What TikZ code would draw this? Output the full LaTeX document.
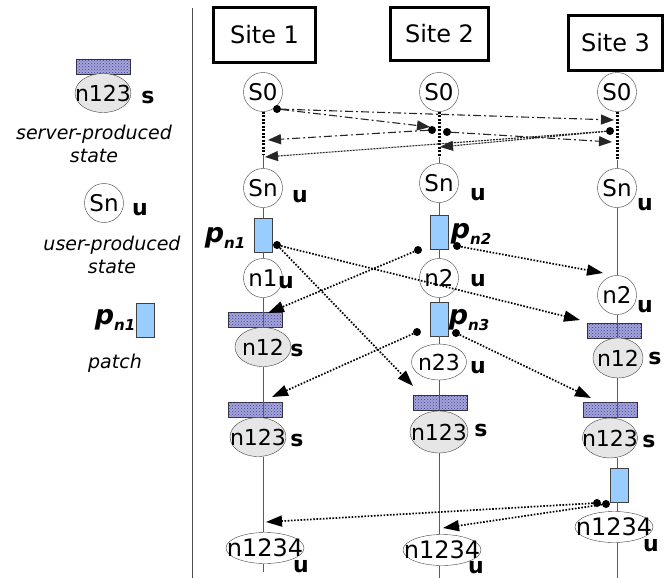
\documentclass[tikz,border=0pt]{standalone}
\usepackage{fontspec}
\setmainfont{DejaVu Sans}
\usetikzlibrary{shapes.geometric,arrows.meta,patterns}
\definecolor{hatchfill}{RGB}{165,165,218}
\definecolor{hatchline}{RGB}{60,60,150}
\definecolor{patchfill}{RGB}{153,204,255}
\definecolor{stgray}{RGB}{230,230,230}
\definecolor{linegray}{RGB}{90,90,90}
\newcommand{\psub}[1]{p\raisebox{-0.45ex}{\fontsize{15}{15}\selectfont #1}}
\begin{document}
\begin{tikzpicture}[x=1pt,y=-1pt,
 sitebox/.style={draw=black, line width=3pt, inner sep=0pt, font=\fontsize{24}{28}\selectfont},
 ustate/.style={circle, draw=black!75, fill=white, inner sep=0pt, minimum size=39pt, font=\fontsize{23}{26}\selectfont},
 uell/.style={ellipse, draw=black!75, fill=white, inner xsep=-20pt, inner ysep=-5pt, minimum width=78pt, minimum height=31pt, font=\fontsize{24}{27}\selectfont},
 sstate/.style={ellipse, draw=black!75, fill=stgray, inner xsep=-9pt, inner ysep=-2pt, minimum width=56pt, minimum height=39pt, font=\fontsize{22}{25}\selectfont},
 hatchbox/.style={rectangle, draw=black!80, fill=hatchfill, minimum width=54pt, minimum height=15pt, inner sep=0pt, postaction={pattern=crosshatch dots, pattern color=hatchline}},
 patchbox/.style={rectangle, draw=black!75, fill=patchfill, minimum width=18pt, minimum height=34pt, inner sep=0pt},
 sidetag/.style={font=\fontsize{22}{24}\selectfont\bfseries, inner sep=0pt},
 plabel/.style={inner sep=0pt, font=\fontsize{27}{30}\selectfont\bfseries\itshape},
 legtext/.style={font=\fontsize{19}{23}\selectfont\itshape, align=center, inner sep=0pt},
 vline/.style={draw=linegray, line width=0.9pt},
 vdot/.style={draw=black, line width=3pt, dash pattern=on 2pt off 1.5pt},
 msg/.style={draw=black!85, line width=1.1pt, -{Triangle[length=13pt,width=10pt]}},
 dashdot/.style={dash pattern=on 8pt off 3pt on 2pt off 3pt},
 finedash/.style={dash pattern=on 2pt off 1pt},
 pmsg/.style={draw=black, line width=1.7pt, dash pattern=on 1.6pt off 1.6pt, -{Triangle[length=16pt,width=11pt]}},
 msgdot/.style={circle, fill=black, inner sep=0pt, minimum size=8pt}]
\useasboundingbox (0,0) rectangle (664,578);

% divider
\coordinate (divtop) at (192,8);
\coordinate (divbot) at (192,578);
\draw[vline, draw=black!70] (divtop) -- (divbot);

% sites
\node[sitebox, minimum width=102pt, minimum height=55pt] (site1) at (264.5,35) {Site 1};
\node[sitebox, minimum width=98pt, minimum height=53pt] (site2) at (439.5,34) {Site 2};
\node[sitebox, minimum width=94pt, minimum height=55pt] (site3) at (615.5,43) {Site 3};

% legend
\node[hatchbox] (lh) at (103,67) {};
\node[sstate] (ls) at (103,93) {n123};
\node[sidetag] (lstag) at (148,97) {s};
\node[legtext] (ltext1) at (94,144) {server-produced\\state};
\node[ustate] (lu) at (104,203) {Sn};
\node[sidetag] (lutag) at (140,210) {u};
\node[legtext] (ltext2) at (112,255) {user-produced\\state};
\node[plabel] (lp) at (115,320) {\psub{n1}};
\node[patchbox] (lpatch) at (145,320) {};
\node[legtext] (ltext3) at (115,363) {patch};

% column 1
\node[ustate] (a0) at (263,92) {S0};
\coordinate (a0d) at (263,155);
\node[ustate] (asn) at (263,188) {Sn};
\node[sidetag] (asntag) at (300,197) {u};
\node[patchbox] (ap1) at (263,235) {};
\node[plabel] (ap1lab) at (225,238) {\psub{n1}};
\node[ustate] (an1) at (263,278) {n1};
\node[sidetag] (an1tag) at (286,283) {u};
\node[hatchbox] (ah1) at (255,320) {};
\node[sstate] (an12) at (263,347) {n12};
\node[sidetag] (an12tag) at (297,350) {s};
\node[hatchbox] (ah2) at (255,410) {};
\node[sstate] (an123) at (258,437) {n123};
\node[sidetag] (an123tag) at (297,440) {s};
\node[uell] (an1234) at (265,548) {n1234};
\node[sidetag] (an1234tag) at (301,567) {u};
\coordinate (abot) at (263,572);

% column 2
\node[ustate] (b0) at (439,92) {S0};
\coordinate (b0d) at (439,157);
\node[ustate] (bsn) at (439,183) {Sn};
\node[sidetag] (bsntag) at (478,195) {u};
\node[patchbox] (bp2) at (439,232) {};
\node[plabel] (bp2lab) at (471,234) {\psub{n2}};
\node[ustate] (bn2) at (439,278) {n2};
\node[sidetag] (bn2tag) at (478,281) {u};
\node[patchbox] (bp3) at (439,319) {};
\node[plabel] (bp3lab) at (469,320) {\psub{n3}};
\node[ellipse, draw=black!75, fill=white, inner xsep=-5pt, inner ysep=0pt, minimum width=55pt, minimum height=36pt, font=\fontsize{22}{25}\selectfont] (bn23) at (439,362) {n23};
\node[sidetag] (bn23tag) at (478,368) {u};
\node[hatchbox] (bh) at (440,403) {};
\node[sstate, minimum width=58pt, minimum height=42pt] (bn123) at (439,432) {n123};
\node[sidetag] (bn123tag) at (481,430) {s};
\node[uell] (bn1234) at (442,550) {n1234};
\node[sidetag] (bn1234tag) at (476,568) {u};
\coordinate (bbot) at (439,578);

% column 3
\node[ustate] (c0) at (617,92) {S0};
\coordinate (c0d) at (617,160);
\node[ustate] (csn) at (617,188) {Sn};
\node[sidetag] (csntag) at (645,205) {u};
\node[ustate] (cn2) at (617,295) {n2};
\node[sidetag] (cn2tag) at (645,307) {u};
\node[hatchbox] (ch1) at (614,331) {};
\node[sstate, minimum width=50pt, minimum height=40pt, inner xsep=-6pt] (cn12) at (618,358) {n12};
\node[sidetag] (cn12tag) at (655,358) {s};
\node[hatchbox] (ch2) at (610,410) {};
\node[sstate, minimum width=55pt, minimum height=40pt] (cn123) at (610,438) {n123};
\node[sidetag] (cn123tag) at (649,441) {s};
\node[patchbox] (cp4) at (619,485) {};
\node[uell] (cn1234) at (614,527) {n1234};
\node[sidetag] (cn1234tag) at (651,546) {u};
\coordinate (cbot) at (617,578);

% vertical life lines
\draw[vdot] (a0) -- (a0d);
\draw[vline] (a0d) -- (asn);
\draw[vline] (asn) -- (ap1);
\draw[vline] (ap1) -- (an1);
\draw[vline] (an1) -- (an12);
\draw[vline] (an12.south) -- (an12.south |- an123.north);
\draw[vline] (an12.south |- an123.south) -- (an12.south |- an1234.north);
\draw[vline] (an12.south |- an1234.south) -- (abot);

\draw[vdot] (b0) -- (b0d);
\draw[vline] (b0d) -- (bsn);
\draw[vline] (bsn) -- (bp2);
\draw[vline] (bp2) -- (bn2);
\draw[vline] (bn2) -- (bp3);
\draw[vline] (bp3) -- (bn23);
\draw[vline] (bn23) -- (bn123);
\draw[vline] (bn123.south) -- (bn123.south |- bn1234.north);
\draw[vline] (bn123.south |- bn1234.south) -- (bbot);

\draw[vdot] (c0) -- (c0d);
\draw[vline] (c0d) -- (csn);
\draw[vline] (csn) -- (cn2);
\draw[vline] (cn2.south) -- (cn2.south |- cn12.north);
\draw[vline] (cn2.south |- cn12.south) -- (cn2.south |- cn123.north);
\draw[vline] (cn2.south |- cn123.south) -- (cn2.south |- cp4.north);
\draw[vline] (cn2.south |- cp4.south) -- (cn2.south |- cn1234.north);
\draw[vline] (cn2.south |- cn1234.south) -- (cbot);

% initial state exchange
\node[msgdot] (d1) at (277,109) {};
\node[msgdot] (d2a) at (432,130) {};
\node[msgdot] (d2b) at (447,132) {};
\node[msgdot] (d3) at (610,131) {};
\coordinate (t12) at (430,127);
\coordinate (t13) at (614,120);
\coordinate (t21) at (268,140);
\coordinate (t23) at (612,142);
\coordinate (t32) at (440,147);
\coordinate (t31) at (265,157);
\draw[msg, dashdot] (d1) -- (t12);
\draw[msg, dashdot] (d1) -- (t13);
\draw[msg, dashdot] (d2a) -- (t21);
\draw[msg, dashdot] (d2b) -- (t23);
\draw[msg, finedash] (d3) -- (t32);
\draw[msg, finedash] (d3) -- (t31);

% patch propagation
\node[msgdot] (e1) at (277,245) {};
\node[msgdot] (e2l) at (418,250) {};
\node[msgdot] (e2r) at (457,246) {};
\node[msgdot] (e3l) at (417,332) {};
\node[msgdot] (e3r) at (456,333) {};
\node[msgdot] (e4a) at (597,503) {};
\node[msgdot] (e4b) at (606,504) {};
\coordinate (u1) at (580,320);
\coordinate (u2) at (413,386);
\coordinate (u3) at (603,273);
\coordinate (u4) at (268,313);
\coordinate (u5) at (272,397);
\coordinate (u6) at (591,398);
\coordinate (u7) at (266,522);
\coordinate (u8) at (443,528);
\draw[pmsg] (e1) -- (u1);
\draw[pmsg] (e1) -- (u2);
\draw[pmsg] (e2r) -- (u3);
\draw[pmsg] (e2l) -- (u4);
\draw[pmsg] (e3l) -- (u5);
\draw[pmsg] (e3r) -- (u6);
\draw[pmsg] (e4a) -- (u7);
\draw[pmsg] (e4b) -- (u8);
\end{tikzpicture}
\end{document}
